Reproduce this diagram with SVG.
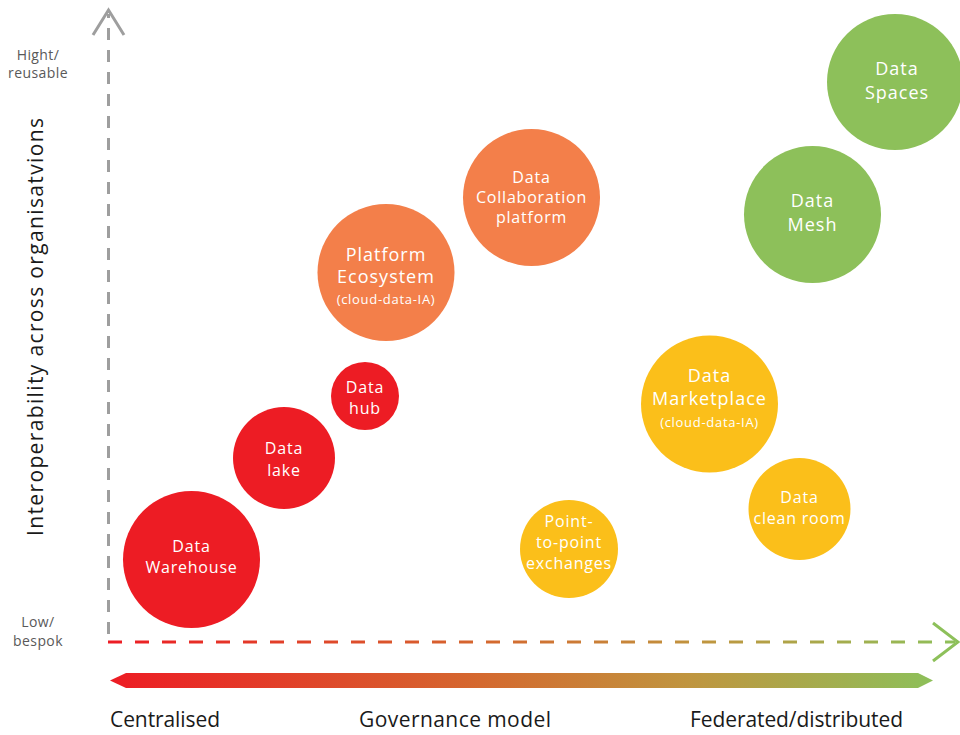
<svg xmlns="http://www.w3.org/2000/svg" width="960" height="735" viewBox="0 0 960 735">
  <defs>
    <linearGradient id="govGrad" gradientUnits="userSpaceOnUse" x1="110" y1="0" x2="935" y2="0">
      <stop offset="0" stop-color="#ED1C24"/>
      <stop offset="0.45" stop-color="#D4692F"/>
      <stop offset="0.7" stop-color="#C0953F"/>
      <stop offset="1" stop-color="#8DC05A"/>
    </linearGradient>
    <linearGradient id="axisGrad" gradientUnits="userSpaceOnUse" x1="108" y1="0" x2="958" y2="0">
      <stop offset="0" stop-color="#ED1C24"/>
      <stop offset="0.45" stop-color="#D4692F"/>
      <stop offset="0.7" stop-color="#C0953F"/>
      <stop offset="1" stop-color="#8DC05A"/>
    </linearGradient>
    <style>
      .red { fill: #ED1C24; }
      .orange { fill: #F37F4A; }
      .yellow { fill: #FBBF1A; }
      .green { fill: #8DC05A; }
      .lbl { font-family: "Open Sans", "Liberation Sans", sans-serif; fill: #ffffff; text-anchor: middle; font-size: 16px; letter-spacing: 0.8px; }
      .lbl.big { font-size: 18px; letter-spacing: 1px; }
      .lbl.small { font-size: 13px; letter-spacing: 0.7px; }
      .tick { font-family: "Open Sans", "Liberation Sans", sans-serif; fill: #595959; font-size: 14px; letter-spacing: 0.4px; text-anchor: middle; }
      .axis-title { font-family: "Open Sans", "Liberation Sans", sans-serif; fill: #1a1a1a; font-size: 21px; }
    </style>
  </defs>

  <!-- axes -->
  <g id="connectors" fill="none" stroke-width="3">
    <line x1="108.5" y1="634" x2="108.5" y2="14" stroke="#9E9E9E" stroke-dasharray="12 10"/>
    <polyline points="93,35 108.5,10 124,35" stroke="#9E9E9E" stroke-linejoin="miter"/>
    <line x1="108" y1="642" x2="955" y2="642" stroke="url(#axisGrad)" stroke-dasharray="14 13"/>
    <polyline points="933,623 958,642 933,661" stroke="#8DC05A"/>
  </g>

  <!-- governance gradient bar -->
  <polygon id="governance-bar" points="110,680.5 126,673 918,673 933,680.5 918,688 126,688" fill="url(#govGrad)"/>

  <!-- axis labels -->
  <text class="tick" x="38" y="60">Hight/</text>
  <text class="tick" x="38" y="78">reusable</text>
  <text class="tick" x="38" y="627">Low/</text>
  <text class="tick" x="38" y="646">bespok</text>
  <text class="axis-title" x="0" y="0" font-size="22" text-anchor="middle" textLength="418" lengthAdjust="spacing" transform="translate(43,327) rotate(-90)">Interoperability across organisatvions</text>
  <text class="axis-title" x="110" y="727" textLength="110" lengthAdjust="spacing">Centralised</text>
  <text class="axis-title" x="359" y="727" textLength="192" lengthAdjust="spacing">Governance model</text>
  <text class="axis-title" x="690" y="727" textLength="213" lengthAdjust="spacing">Federated/distributed</text>

  <!-- nodes -->
  <g id="data-warehouse">
    <circle class="red" cx="191.5" cy="559.5" r="68.5"/>
    <text class="lbl" x="191.5" y="552">Data</text>
    <text class="lbl" x="191.5" y="573">Warehouse</text>
  </g>
  <g id="data-lake">
    <circle class="red" cx="284" cy="458" r="51"/>
    <text class="lbl" x="284" y="454">Data</text>
    <text class="lbl" x="284" y="476">lake</text>
  </g>
  <g id="data-hub">
    <circle class="red" cx="365" cy="396" r="34"/>
    <text class="lbl" x="365" y="393">Data</text>
    <text class="lbl" x="365" y="414">hub</text>
  </g>
  <g id="platform-ecosystem">
    <circle class="orange" cx="386" cy="272.5" r="68.5"/>
    <text class="lbl big" x="386" y="261">Platform</text>
    <text class="lbl big" x="386" y="283">Ecosystem</text>
    <text class="lbl small" x="386" y="304">(cloud-data-IA)</text>
  </g>
  <g id="data-collaboration-platform">
    <circle class="orange" cx="531.5" cy="197.5" r="68.5"/>
    <text class="lbl" x="531.5" y="183">Data</text>
    <text class="lbl" x="531.5" y="203">Collaboration</text>
    <text class="lbl" x="531.5" y="223">platform</text>
  </g>
  <g id="point-to-point">
    <circle class="yellow" cx="569" cy="549" r="49"/>
    <text class="lbl" x="569" y="527">Point-</text>
    <text class="lbl" x="569" y="548">to-point</text>
    <text class="lbl" x="569" y="569">exchanges</text>
  </g>
  <g id="data-marketplace">
    <circle class="yellow" cx="709.5" cy="404" r="68.5"/>
    <text class="lbl big" x="709.5" y="382">Data</text>
    <text class="lbl big" x="709.5" y="405">Marketplace</text>
    <text class="lbl small" x="709.5" y="427">(cloud-data-IA)</text>
  </g>
  <g id="data-clean-room">
    <circle class="yellow" cx="799.5" cy="509" r="51"/>
    <text class="lbl" x="799.5" y="503">Data</text>
    <text class="lbl" x="799.5" y="524">clean room</text>
  </g>
  <g id="data-mesh">
    <circle class="green" cx="812.5" cy="214.5" r="68.5"/>
    <text class="lbl big" x="812.5" y="207">Data</text>
    <text class="lbl big" x="812.5" y="231">Mesh</text>
  </g>
  <g id="data-spaces">
    <circle class="green" cx="895" cy="82" r="68"/>
    <text class="lbl big" x="897" y="75">Data</text>
    <text class="lbl big" x="897" y="99">Spaces</text>
  </g>
</svg>
